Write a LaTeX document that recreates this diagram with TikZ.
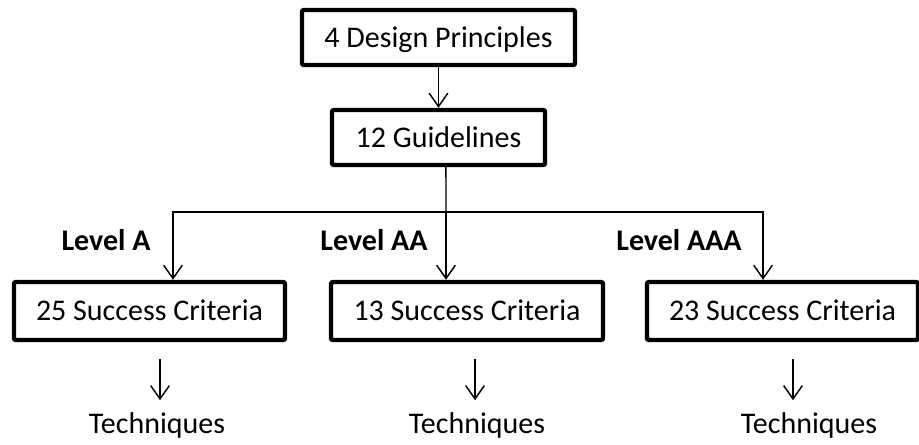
\documentclass[tikz,border=0pt]{standalone}
\usepackage{fontspec}
\setmainfont{Carlito}
\usetikzlibrary{arrows.meta,calc}

\tikzset{
  box/.style={draw, line width=3.3pt, rounded corners=1.5pt, minimum height=41.25pt,
    text height=14.5pt, text depth=0pt, inner sep=0pt},
  level/.style={font=\fontsize{22.5}{27}\selectfont\bfseries, anchor=base, inner sep=0pt},
  tech/.style={anchor=base, inner sep=0pt},
  line/.style={line width=1.1pt},
  conn/.style={line, -{Straight Barb[length=10pt,width=14pt,line width=1.1pt]}}
}

\begin{document}
\begin{tikzpicture}[x=0.75pt, y=-0.75pt, font=\fontsize{22.5}{27}\selectfont]
\useasboundingbox (0,0) rectangle (919,444);

\node[box, minimum width=204.75pt](dp) at (438.5, 37.5) {4 Design Principles};
\node[box, minimum width=159.75pt](gl) at (438.5, 137.5) {12 Guidelines};

\node[box, minimum width=203.25pt, minimum height=43.5pt](c25) at (149.5, 311) {25 Success Criteria};
\node[box, minimum width=204pt, minimum height=43.5pt](c13) at (467, 311) {13 Success Criteria};
\node[box, minimum width=203.25pt, minimum height=43.5pt](c23) at (782.5, 311) {23 Success Criteria};

\node[level](la) at (106, 250) {Level A};
\node[level](laa) at (374, 250) {Level AA};
\node[level](laaa) at (679, 250) {Level AAA};

\node[tech](t25) at (157, 433) {Techniques};
\node[tech](t13) at (477, 433) {Techniques};
\node[tech](t23) at (809, 433) {Techniques};

\coordinate(split) at (446, 212);

\draw[conn] (dp) -- (gl);
\draw[line] ([xshift=5.6pt]gl.south) -- (split);
\draw[conn] (split) -| ([xshift=17.6pt]c25.north);
\draw[conn] (split) -- (split |- c13.north);
\draw[conn] (split) -| ([xshift=-14.6pt]c23.north);

\draw[conn] ($(c25.south -| t25)+(3,17)$) -- ++(0,41);
\draw[conn] ($(c13.south -| t13)+(-2,17)$) -- ++(0,41);
\draw[conn] ($(c23.south -| t23)+(-16,17)$) -- ++(0,41);

\end{tikzpicture}
\end{document}
